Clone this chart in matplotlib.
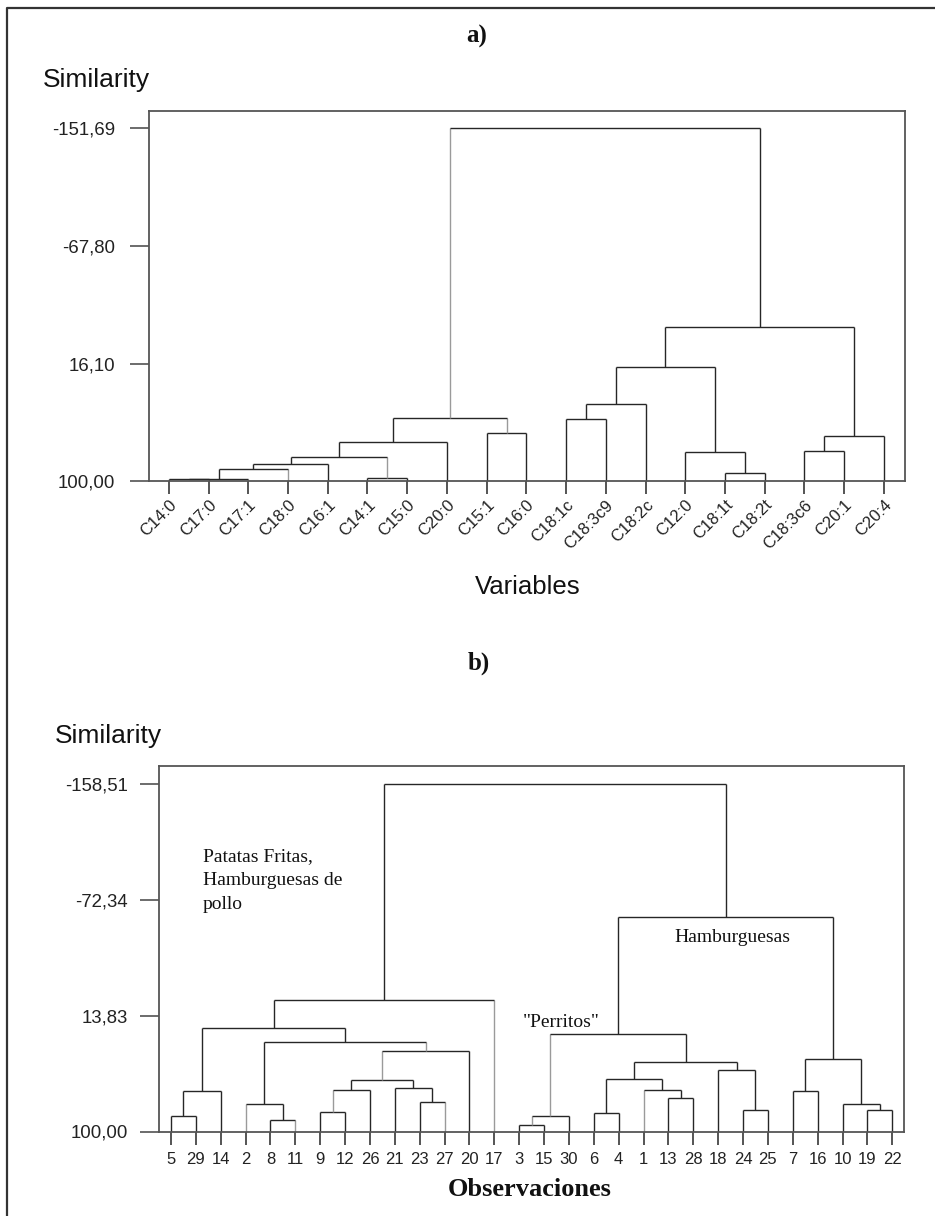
import matplotlib
matplotlib.use("Agg")
import matplotlib.pyplot as plt
from matplotlib.lines import Line2D

# ---- datos panel a) (variables) ----
LEAVES_A = ['C14:0', 'C17:0', 'C17:1', 'C18:0', 'C16:1', 'C14:1', 'C15:0', 'C20:0',
            'C15:1', 'C16:0', 'C18:1c', 'C18:3c9', 'C18:2c', 'C12:0', 'C18:1t',
            'C18:2t', 'C18:3c6', 'C20:1', 'C20:4']
# (hijo izq, hijo der, similitud) ; ids >= n son uniones previas
MERGES_A = [(0, 1, 98.4), (19, 2, 97.9), (20, 3, 90.8), (21, 4, 87.9), (5, 6, 97.2),
            (22, 23, 82.4), (24, 7, 71.6), (8, 9, 65.6), (25, 26, 55.0),
            (10, 11, 55.2), (28, 12, 44.8), (14, 15, 94.0), (13, 30, 79.1),
            (29, 31, 18.7), (16, 17, 78.4), (33, 18, 67.3), (32, 34, -10.2),
            (27, 35, -151.69)]
YTICKS_A = [-151.69, -67.80, 16.10, 100.00]
LIGHT_A = {2, 3, 23, 26, 27}

# ---- datos panel b) (observaciones) ----
LEAVES_B = ['5', '29', '14', '2', '8', '11', '9', '12', '26', '21', '23', '27', '20',
            '17', '3', '15', '30', '6', '4', '1', '13', '28', '18', '24', '25', '7',
            '16', '10', '19', '22']
MERGES_B = [(0, 1, 88.3), (30, 2, 69.7), (4, 5, 91.3), (3, 32, 79.2), (6, 7, 85.6),
            (34, 8, 69.2), (10, 11, 77.9), (9, 36, 67.7), (35, 37, 61.8),
            (38, 12, 40.2), (33, 39, 33.1), (31, 40, 23.1), (41, 13, 2.3),
            (14, 15, 94.8), (43, 16, 88.1), (17, 18, 86.1), (20, 21, 75.2),
            (19, 46, 68.8), (45, 47, 60.8), (23, 24, 84.1), (22, 49, 54.4),
            (48, 50, 48.0), (44, 51, 27.4), (25, 26, 69.7), (28, 29, 84.1),
            (27, 54, 79.6), (53, 55, 45.9), (52, 56, -59.6), (42, 57, -158.51)]
YTICKS_B = [-158.51, -72.34, 13.83, 100.00]
LIGHT_B = {3, 5, 11, 13, 19, 34, 38, 39, 43, 44}

SANS = ['Liberation Sans', 'DejaVu Sans']
SERIF = ['Liberation Serif', 'DejaVu Serif']
DARK = '#262626'
GRAY = '#9a9a9a'
W, H = 935, 1216

fig = plt.figure(figsize=(W / 100, H / 100), dpi=100)


def fx(x):
    return x / W


def fy(y):
    return 1 - y / H


def draw_tree(ax, leaves, merges, light, base=100.0):
    n = len(leaves)
    xs = {i: float(i) for i in range(n)}
    hs = {i: base for i in range(n)}
    for k, (a, b, h) in enumerate(merges):
        for c in (a, b):
            ax.plot([xs[c], xs[c]], [hs[c], h], color=GRAY if c in light else DARK,
                    lw=1.0, solid_capstyle='butt')
        ax.plot([xs[a], xs[b]], [h, h], color=DARK, lw=1.0, solid_capstyle='butt')
        xs[n + k] = (xs[a] + xs[b]) / 2
        hs[n + k] = h


def setup(ax, leaves, yticks, light, ytop, xl, xr, rot, lab_size, ypad, xpad):
    n = len(leaves)
    ax.set_xlim(-xl, n - 1 + xr)
    ax.set_ylim(100, ytop)
    for s in ax.spines.values():
        s.set_color('#555555')
        s.set_linewidth(1.3)
    ax.set_yticks(yticks)
    ax.set_yticklabels([f"{v:.2f}".replace('.', ',') for v in yticks],
                       fontsize=13.4, family=SANS, color='#222222')
    ax.tick_params(axis='y', length=13.5, width=1.1, color='#444444', pad=ypad)
    ax.set_xticks(range(n))
    if rot:
        ax.set_xticklabels(leaves, rotation=45, ha='right', va='top',
                           rotation_mode='anchor', fontsize=lab_size, family=SANS,
                           color='#222222')
    else:
        ax.set_xticklabels(leaves, fontsize=lab_size, family=SANS, color='#222222')
    ax.tick_params(axis='x', length=9.4, width=1.1, color=DARK, pad=xpad)
    for i, t in enumerate(ax.xaxis.get_major_ticks()):
        if i in light:
            t.tick1line.set_color(GRAY)


# ---- panel a ----
axa = fig.add_axes([fx(149), fy(481.5), fx(905 - 149), (481.5 - 111) / H])
draw_tree(axa, LEAVES_A, MERGES_A, LIGHT_A)
setup(axa, LEAVES_A, YTICKS_A, LIGHT_A, -163.6, 0.50, 0.53, True, 12, 11, 2)

# ---- panel b ----
axb = fig.add_axes([fx(159), fy(1131.5), fx(904 - 159), (1131.5 - 766) / H])
draw_tree(axb, LEAVES_B, MERGES_B, LIGHT_B)
setup(axb, LEAVES_B, YTICKS_B, LIGHT_B, -171.9, 0.48, 0.47, False, 12, 9, 5)

# ---- textos ----
fig.text(fx(477), fy(36), 'a)', fontsize=18, fontweight='bold', family=SERIF,
         ha='center', va='center', color='#111111')
fig.text(fx(479), fy(663), 'b)', fontsize=18, fontweight='bold', family=SERIF,
         ha='center', va='center', color='#111111')
fig.text(fx(43), fy(80), 'Similarity', fontsize=19, family=SANS,
         ha='left', va='center', color='#111111')
fig.text(fx(55), fy(736), 'Similarity', fontsize=19, family=SANS,
         ha='left', va='center', color='#111111')
fig.text(fx(527.5), fy(587), 'Variables', fontsize=18.5, family=SANS,
         ha='center', va='center', color='#111111')
fig.text(fx(529.5), fy(1190), 'Observaciones', fontsize=19, fontweight='bold',
         family=SERIF, ha='center', va='center', color='#111111')
fig.text(fx(203), fy(848), 'Patatas Fritas,\nHamburguesas de\npollo', fontsize=14,
         family=SERIF, ha='left', va='top', linespacing=1.55, color='#111111')
fig.text(fx(674), fy(938), 'Hamburguesas', fontsize=14, family=SERIF,
         ha='left', va='center', color='#111111')
fig.text(fx(522.5), fy(1022.5), '"Perritos"', fontsize=14, family=SERIF,
         ha='left', va='center', color='#111111')

# marco exterior (solo izquierda y arriba)
fig.add_artist(Line2D([fx(7), fx(7), 1.0], [0.0, fy(8), fy(8)], color='#333333',
                      lw=1.6, transform=fig.transFigure))

fig.savefig('out.png', dpi=100, facecolor='white')
